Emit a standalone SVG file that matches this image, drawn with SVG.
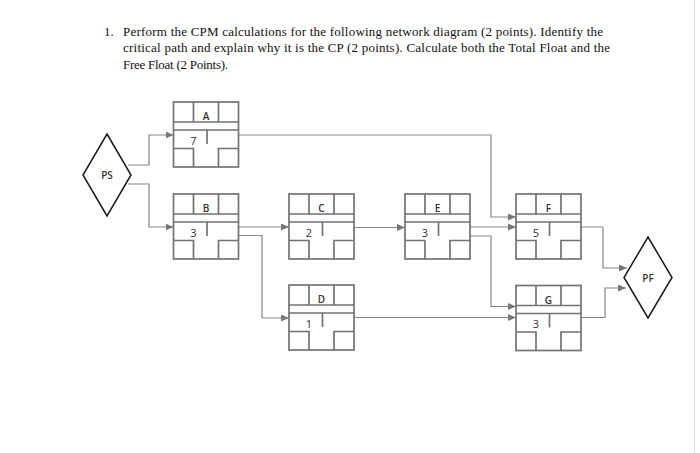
<svg xmlns="http://www.w3.org/2000/svg" width="700" height="453" viewBox="0 0 700 453">
<style>
.t{font-family:"Liberation Serif","Times New Roman",serif;font-size:13px;fill:#111}
.bx{fill:none;stroke:#727272;stroke-width:1.7}
.lb{font-family:"Open Sans","Liberation Sans",Arial,sans-serif;font-size:10px;font-weight:600;fill:#333;text-anchor:middle}
.du{font-family:"Open Sans","Liberation Sans",Arial,sans-serif;font-size:11px;fill:#333;text-anchor:middle}
.dm{fill:#fff;stroke:#1a1a1a;stroke-width:1.5}
.cn{fill:none;stroke:#858585;stroke-width:1.2}
</style>
<defs>
<marker id="ar" markerUnits="userSpaceOnUse" markerWidth="8" markerHeight="7" refX="8" refY="3.5" orient="auto">
<path d="M0,0 L8,3.5 L0,7 z" fill="#777"/>
</marker>
<g id="box">
<rect x="0" y="0" width="65" height="65" class="bx"/>
<path class="bx" d="M0,20 H65 M0,28 H65 M20,0 V20 M45,0 V20 M0,46.5 H20 V65 M65,46.5 H45 V65 M33.5,28 V42"/>
</g>
</defs>
<rect width="700" height="453" fill="#fff"/>
<line x1="694.5" y1="0" x2="694.5" y2="453" stroke="#d8d8d8" stroke-width="1"/>

<g id="title">
<text class="t" x="104" y="35.5">1.</text>
<text class="t" x="123" y="35.5" textLength="480" lengthAdjust="spacing">Perform the CPM calculations for the following network diagram (2 points). Identify the</text>
<text class="t" x="123" y="52" textLength="487" lengthAdjust="spacing">critical path and explain why it is the CP (2 points). Calculate both the Total Float and the</text>
<text class="t" x="123" y="68.5" textLength="105" lengthAdjust="spacing">Free Float (2 Points).</text>
</g>

<g id="connectors">
<path class="cn" marker-end="url(#ar)" d="M128,165 H149 V135 H173.5"/>
<path class="cn" marker-end="url(#ar)" d="M128,184 H149 V227 H173.5"/>
<path class="cn" marker-end="url(#ar)" d="M239,135 H491 V217 H516"/>
<path class="cn" marker-end="url(#ar)" d="M239,227 H289"/>
<path class="cn" marker-end="url(#ar)" d="M239,235.5 H262 V318 H289"/>
<path class="cn" marker-end="url(#ar)" d="M354,227.5 H405"/>
<path class="cn" marker-end="url(#ar)" d="M470,227 H516"/>
<path class="cn" marker-end="url(#ar)" d="M470,236 H491 V306.5 H516"/>
<path class="cn" marker-end="url(#ar)" d="M354,317.5 H516"/>
<path class="cn" marker-end="url(#ar)" d="M581,227 H603 V268 H627"/>
<path class="cn" marker-end="url(#ar)" d="M581,317.5 H605 V288 H626"/>
</g>

<g id="PS">
<path class="dm" d="M107,134 L131,175 L107,216 L83,175 z"/>
<text class="lb" x="107" y="179" style="font-size:10px">PS</text>
</g>
<g id="PF">
<path class="dm" d="M648,237 L672,277.5 L648,318 L624,277.5 z"/>
<text class="lb" x="648" y="281.5" style="font-size:10px">PF</text>
</g>

<g id="A" transform="translate(173.5,102)">
<use href="#box"/>
<text class="lb" x="32.5" y="18">A</text>
<text class="du" x="20" y="42.5">7</text>
</g>
<g id="B" transform="translate(173.5,194)">
<use href="#box"/>
<text class="lb" x="32.5" y="18">B</text>
<text class="du" x="20" y="42.5">3</text>
</g>
<g id="C" transform="translate(289,194)">
<use href="#box"/>
<text class="lb" x="32.5" y="18">C</text>
<text class="du" x="20" y="42.5">2</text>
</g>
<g id="D" transform="translate(289,285)">
<use href="#box"/>
<text class="lb" x="32.5" y="18">D</text>
<text class="du" x="20" y="42.5">1</text>
</g>
<g id="E" transform="translate(405,194)">
<use href="#box"/>
<text class="lb" x="32.5" y="18">E</text>
<text class="du" x="20" y="42.5">3</text>
</g>
<g id="F" transform="translate(516,194)">
<use href="#box"/>
<text class="lb" x="32.5" y="18">F</text>
<text class="du" x="20" y="42.5">5</text>
</g>
<g id="G" transform="translate(516,285.5)">
<use href="#box"/>
<text class="lb" x="32.5" y="18">G</text>
<text class="du" x="20" y="42.5">3</text>
</g>
</svg>
